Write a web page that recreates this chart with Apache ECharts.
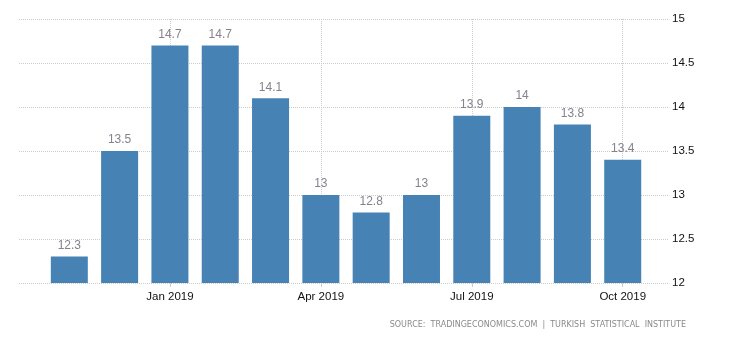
<!DOCTYPE html>
<html>
<head>
<meta charset="utf-8">
<script src="https://cdn.jsdelivr.net/npm/echarts@6/dist/echarts.min.js"></script>
<style>html,body{margin:0;padding:0;background:#fff}#c{width:730px;height:340px}</style>
</head>
<body>
<div id="c"></div>
<script>
// month offsets relative to Jan 2019 (Nov 2018 .. Oct 2019)
var monthIndex = [-2, -1, 0, 1, 2, 3, 4, 5, 6, 7, 8, 9];
var values = [12.3, 13.5, 14.7, 14.7, 14.1, 13, 12.8, 13, 13.9, 14, 13.8, 13.4];
var xTickValues = [-3, 0, 3, 6, 9];
var xTickLabels = ['', 'Jan 2019', 'Apr 2019', 'Jul 2019', 'Oct 2019'];
var yTicks = {min: 12, max: 15, interval: 0.5};
var sourceText = 'SOURCE:  TRADINGECONOMICS.COM  |  TURKISH  STATISTICAL  INSTITUTE';

var chart = echarts.init(document.getElementById('c'));
chart.setOption({
  animation: false,
  grid: {left: 19, right: 62, top: 19, bottom: 57},
  xAxis: {
    type: 'value',
    min: -3, max: 9.9, interval: 3,
    axisLine: {show: false},
    axisTick: {show: true, length: 4, lineStyle: {color: '#ccc'}},
    splitLine: {show: true, showMinLine: false, showMaxLine: false, lineStyle: {color: '#ccc', type: 'dotted'}},
    axisLabel: {
      color: '#111', fontSize: 11.5, fontFamily: 'Liberation Sans', margin: 8,
      showMinLabel: false, showMaxLabel: false,
      formatter: function (v) { var k = xTickValues.indexOf(Math.round(v)); return k >= 0 ? xTickLabels[k] : ''; }
    }
  },
  yAxis: {
    type: 'value', position: 'right',
    min: yTicks.min, max: yTicks.max, interval: yTicks.interval,
    axisLine: {show: false}, axisTick: {show: false},
    splitLine: {show: true, lineStyle: {color: '#ccc', type: 'dotted'}},
    axisLabel: {color: '#111', fontSize: 11.5, fontFamily: 'Liberation Sans', margin: 4}
  },
  series: [{
    type: 'bar',
    barWidth: 37,
    data: monthIndex.map(function (m, i) { return [m, values[i]]; }),
    itemStyle: {color: '#4682b4'},
    label: {show: true, position: 'top', distance: 5, color: '#87808f', fontSize: 12, fontFamily: 'Liberation Sans'}
  }],
  graphic: [{
    type: 'text', right: 44, top: 321,
    style: {text: sourceText, fill: '#8a8a8a', fontSize: 8, fontFamily: 'DejaVu Sans'}
  }]
});
</script>
</body>
</html>
